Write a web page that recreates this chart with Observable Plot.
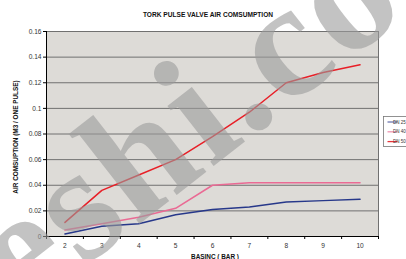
<!DOCTYPE html>
<html><head><meta charset="utf-8">
<script src="https://cdn.jsdelivr.net/npm/d3@7"></script>
<script src="https://cdn.jsdelivr.net/npm/@observablehq/plot@0.6"></script>
<style>
body{margin:0;background:#fff;overflow:hidden;font-family:"Liberation Sans",Arial,sans-serif}
#chart svg{display:block}
</style>
</head><body><div id="chart"></div>
<script>
const pressures = [2, 3, 4, 5, 6, 7, 8, 9, 10];
const seriesNames = ["DN 25", "DN 40", "DN 50"];
const dnSmall = [0.002, 0.008, 0.010, 0.017, 0.021, 0.023, 0.027, 0.028, 0.029];
const dnMid   = [0.005, 0.010, 0.015, 0.022, 0.040, 0.042, 0.042, 0.042, 0.042];
const dnLarge = [0.011, 0.036, 0.048, 0.060, 0.078, 0.097, 0.120, 0.128, 0.134];
const yTicks = [0, 0.02, 0.04, 0.06, 0.08, 0.1, 0.12, 0.14, 0.16];
const titleText = "TORK PULSE VALVE AIR COMSUMPTION";
const yLabel = "AIR COMSUPTION (M3 / ONE PULSE)";
const xLabel = "BASINÇ ( BAR )";
const watermark = "eshi.co";

const colors = ["#27388a", "#ea6a94", "#e81f27"];
const legendColors = ["#6f78b0", "#ef94b2", "#e8343b"];
const seriesValues = [dnSmall, dnMid, dnLarge];
const rows = seriesValues.flatMap((vals, si) => vals.map((v, i) => ({p: pressures[i], v, s: seriesNames[si]})));
const halfTicks = d3.range(1.5, 11, 1);

const W = 406, H = 259;
const chart = Plot.plot({
  width: W, height: H,
  marginLeft: 46, marginRight: 28, marginTop: 31, marginBottom: 23,
  style: {fontFamily: "'Liberation Sans', Arial, sans-serif", fontSize: "6.6px", color: "#333", background: "#fff"},
  x: {domain: [1.5, 10.5], axis: null},
  y: {domain: [0, 0.16], axis: null},
  color: {domain: seriesNames, range: colors},
  marks: [
    Plot.frame({fill: "#dddbd7", stroke: null}),
    Plot.ruleY(yTicks.filter(d => d > 0), {stroke: "#707070", strokeWidth: 1}),
    Plot.ruleX([10.5], {stroke: "#707070", strokeWidth: 1}),
    Plot.axisY({ticks: yTicks, tickSize: 3, tickPadding: 2, tickFormat: d => String(+d.toFixed(2)), label: null, stroke: "#000"}),
    Plot.axisX({ticks: halfTicks, tickSize: 3, tickFormat: () => "", label: null, stroke: "#000"}),
    Plot.axisX({ticks: pressures, tickSize: 0, tickPadding: 7, tickFormat: d => String(d), label: null}),
    Plot.ruleX([1.5], {stroke: "#000", strokeWidth: 1}),
    Plot.ruleY([0], {stroke: "#000", strokeWidth: 1}),
    Plot.line(rows, {x: "p", y: "v", z: "s", stroke: "s", strokeWidth: 1.5})
  ]
});
document.getElementById("chart").appendChild(chart);

const svg = d3.select(chart);
const font = "'Liberation Sans', Arial, sans-serif";
svg.append("text").attr("x", 208).attr("y", 17).attr("text-anchor", "middle")
  .attr("font-family", font).attr("font-size", 6.6).attr("font-weight", "bold").attr("fill", "#111").text(titleText);
svg.append("text").attr("transform", "translate(18,137) rotate(-90)").attr("text-anchor", "middle")
  .attr("font-family", font).attr("font-size", 6.4).attr("font-weight", "bold").attr("fill", "#111").text(yLabel);
svg.append("text").attr("x", 215).attr("y", 259).attr("text-anchor", "middle")
  .attr("font-family", font).attr("font-size", 6.4).attr("font-weight", "bold").attr("fill", "#111").text(xLabel);

// legend
const lg = svg.append("g").attr("transform", "translate(383.5,116.5)");
lg.append("rect").attr("width", 40).attr("height", 30).attr("fill", "#fff").attr("stroke", "#777").attr("stroke-width", 0.8);
seriesNames.forEach((n, i) => {
  const y = 5.5 + i * 9.8;
  lg.append("line").attr("x1", 4).attr("x2", 14).attr("y1", y).attr("y2", y).attr("stroke", legendColors[i]).attr("stroke-width", 1.3);
  lg.append("text").attr("x", 16).attr("y", y + 1.6).attr("font-family", font).attr("font-size", 4.5).attr("fill", "#333").text(n);
});

// watermark
svg.append("text").attr("transform", "translate(23,315) rotate(-38)").attr("text-anchor", "start")
  .attr("font-family", "'Liberation Serif', 'DejaVu Serif', serif").attr("font-weight", "bold").attr("font-size", 165)
  .attr("letter-spacing", 3)
  .attr("fill", "#9b9b9b").attr("fill-opacity", 0.6).text(watermark);
</script>
</body></html>
